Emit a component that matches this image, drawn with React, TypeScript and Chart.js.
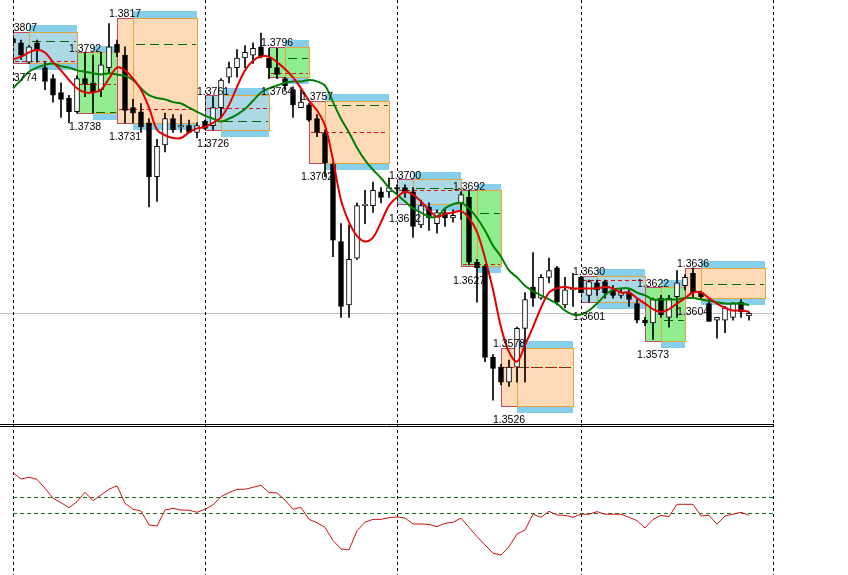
import React, { useEffect, useRef } from "react";
import { Chart, registerables } from "chart.js";

Chart.register(...registerables);

// ---------- categories (hourly bars) ----------
const categories: string[] = Array.from({ length: 96 }, (_, i) => `H${i}`);

// ---------- OHLC ----------
const opens = [
  1.3802, 1.3799, 1.3785, 1.3799, 1.3781, 1.3773, 1.3763, 1.3759, 1.3749, 1.3773,
  1.3770, 1.3765, 1.3781, 1.3798, 1.3790, 1.3752, 1.3749, 1.3741, 1.3702, 1.3725,
  1.3744, 1.3738, 1.3739, 1.3734, 1.3742, 1.3739, 1.3752, 1.3774, 1.3781, 1.3788,
  1.3790, 1.3796, 1.3788, 1.3781, 1.3773, 1.3765, 1.3752, 1.3754, 1.3744, 1.3734,
  1.3711, 1.3655, 1.3609, 1.3643, 1.3681, 1.3681, 1.3691, 1.3691, 1.3694, 1.3694,
  1.3691, 1.3667, 1.3680, 1.3668, 1.3676, 1.3672, 1.3683, 1.3687, 1.3640, 1.3637,
  1.3571, 1.3564, 1.3553, 1.3564, 1.3592, 1.3622, 1.3614, 1.3629, 1.3636, 1.3609,
  1.3620, 1.3629, 1.3616, 1.3625, 1.3626, 1.3620, 1.3616, 1.3618, 1.3610, 1.3598,
  1.3596, 1.3614, 1.3600, 1.3615, 1.3623, 1.3632, 1.3618, 1.3610, 1.3598, 1.3598,
  1.3600, 1.3611, 1.3601,
];
const highs = [
  1.3803, 1.3801, 1.3797, 1.3801, 1.3785, 1.3776, 1.3770, 1.3761, 1.3775, 1.3792,
  1.3790, 1.3792, 1.3813, 1.3801, 1.3796, 1.3758, 1.3755, 1.3744, 1.3729, 1.3748,
  1.3747, 1.3747, 1.3743, 1.3741, 1.3743, 1.3760, 1.3773, 1.3785, 1.3794, 1.3797,
  1.3799, 1.3806, 1.3795, 1.3795, 1.3774, 1.3767, 1.3765, 1.3755, 1.3747, 1.3736,
  1.3712, 1.3668, 1.3667, 1.3683, 1.3692, 1.3698, 1.3694, 1.3701, 1.3696, 1.3696,
  1.3694, 1.3685, 1.3683, 1.3678, 1.3679, 1.3678, 1.3691, 1.3692, 1.3642, 1.3638,
  1.3573, 1.3566, 1.3569, 1.3593, 1.3618, 1.3647, 1.3631, 1.3643, 1.3637, 1.3629,
  1.3632, 1.3630, 1.3627, 1.3627, 1.3627, 1.3623, 1.3621, 1.3620, 1.3613, 1.3600,
  1.3614, 1.3616, 1.3616, 1.3634, 1.3631, 1.3636, 1.3619, 1.3614, 1.3600, 1.3608,
  1.3611, 1.3613, 1.3604,
];
const lows = [
  1.3797, 1.3787, 1.3784, 1.3785, 1.3765, 1.3756, 1.3745, 1.3741, 1.3748, 1.3760,
  1.3748, 1.3760, 1.3777, 1.3789, 1.3741, 1.3741, 1.3734, 1.3680, 1.3684, 1.3720,
  1.3734, 1.3734, 1.3734, 1.3730, 1.3736, 1.3736, 1.3745, 1.3770, 1.3774, 1.3781,
  1.3784, 1.3788, 1.3773, 1.3773, 1.3765, 1.3745, 1.3752, 1.3742, 1.3731, 1.3702,
  1.3644, 1.3600, 1.3600, 1.3642, 1.3668, 1.3676, 1.3683, 1.3687, 1.3689, 1.3687,
  1.3658, 1.3665, 1.3663, 1.3661, 1.3666, 1.3669, 1.3671, 1.3638, 1.3611, 1.3568,
  1.3540, 1.3551, 1.3550, 1.3553, 1.3553, 1.3608, 1.3613, 1.3625, 1.3609, 1.3607,
  1.3608, 1.3618, 1.3611, 1.3616, 1.3614, 1.3614, 1.3614, 1.3608, 1.3596, 1.3594,
  1.3584, 1.3600, 1.3593, 1.3600, 1.3620, 1.3615, 1.3613, 1.3597, 1.3585, 1.3589,
  1.3598, 1.3600, 1.3598,
];
const closes = [
  1.3799, 1.3790, 1.3796, 1.3794, 1.3771, 1.3761, 1.3758, 1.3749, 1.3773, 1.3769,
  1.3763, 1.3783, 1.3796, 1.3792, 1.3750, 1.3748, 1.3738, 1.3702, 1.3724, 1.3744,
  1.3736, 1.3739, 1.3734, 1.3739, 1.3737, 1.3752, 1.3772, 1.3781, 1.3788, 1.3792,
  1.3795, 1.3789, 1.3781, 1.3776, 1.3768, 1.3754, 1.3756, 1.3743, 1.3734, 1.3712,
  1.3656, 1.3608, 1.3642, 1.3681, 1.3682, 1.3692, 1.3687, 1.3694, 1.3693, 1.3691,
  1.3666, 1.3681, 1.3672, 1.3676, 1.3672, 1.3674, 1.3689, 1.3640, 1.3636, 1.3571,
  1.3563, 1.3553, 1.3564, 1.3592, 1.3613, 1.3614, 1.3629, 1.3634, 1.3611, 1.3620,
  1.3621, 1.3618, 1.3626, 1.3620, 1.3618, 1.3616, 1.3618, 1.3613, 1.3598, 1.3596,
  1.3613, 1.3602, 1.3614, 1.3625, 1.3629, 1.3618, 1.3615, 1.3597, 1.3600, 1.3607,
  1.3610, 1.3604, 1.3603,
];

// ---------- moving averages ----------
const fastMA = [
  1.3787, 1.3789, 1.3792, 1.3794, 1.3792, 1.3785, 1.3779, 1.3772, 1.3766, 1.3763,
  1.3763, 1.3765, 1.3773, 1.3781, 1.3779, 1.3773, 1.3765, 1.3752, 1.3736, 1.3732,
  1.3730, 1.3730, 1.3734, 1.3737, 1.3738, 1.3741, 1.3745, 1.3754, 1.3767, 1.3779,
  1.3786, 1.3789, 1.3789, 1.3785, 1.3780, 1.3774, 1.3766, 1.3757, 1.3750, 1.3739,
  1.3714, 1.3685, 1.3669, 1.3659, 1.3655, 1.3658, 1.3669, 1.3681, 1.3687, 1.3691,
  1.3689, 1.3684, 1.3678, 1.3673, 1.3675, 1.3676, 1.3677, 1.3672, 1.3662, 1.3643,
  1.3620, 1.3593, 1.3575, 1.3568, 1.3580, 1.3593, 1.3607, 1.3618, 1.3621, 1.3622,
  1.3621, 1.3621, 1.3621, 1.3621, 1.3622, 1.3621, 1.3618, 1.3618, 1.3614, 1.3610,
  1.3606, 1.3604, 1.3606, 1.3610, 1.3614, 1.3618, 1.3618, 1.3614, 1.3610, 1.3607,
  1.3605, 1.3605, 1.3604,
];
const slowMA = [
  1.3766, 1.3772, 1.3778, 1.3781, 1.3783, 1.3784, 1.3782, 1.3781, 1.3779, 1.3778,
  1.3777, 1.3776, 1.3777, 1.3776, 1.3775, 1.3772, 1.3766, 1.3761, 1.3759, 1.3758,
  1.3756, 1.3755, 1.3752, 1.3749, 1.3746, 1.3744, 1.3742, 1.3744, 1.3747, 1.3751,
  1.3757, 1.3763, 1.3766, 1.3768, 1.3770, 1.3771, 1.3771, 1.3772, 1.3771, 1.3768,
  1.3756, 1.3744, 1.3734, 1.3723, 1.3714, 1.3707, 1.3701, 1.3694, 1.3689, 1.3684,
  1.3679, 1.3676, 1.3673, 1.3673, 1.3679, 1.3682, 1.3683, 1.3679, 1.3672, 1.3663,
  1.3652, 1.3644, 1.3634, 1.3629, 1.3623, 1.3619, 1.3616, 1.3613, 1.3610, 1.3605,
  1.3602, 1.3602, 1.3605, 1.3610, 1.3616, 1.3620, 1.3621, 1.3621, 1.3618, 1.3616,
  1.3613, 1.3613, 1.3613, 1.3613, 1.3614, 1.3614, 1.3613, 1.3612, 1.3611, 1.3610,
  1.3610, 1.3610, 1.3609,
];

// ---------- lower-pane oscillator ----------
const oscillator = [
  65.4, 61.4, 62.5, 61.2, 55.6, 49.4, 46.6, 43.5, 47.2, 53.1,
  47.9, 51.4, 55.0, 57.2, 46.2, 42.5, 41.4, 32.7, 32.0, 42.0,
  43.1, 42.0, 41.9, 40.6, 42.5, 45.2, 50.4, 52.9, 55.0, 55.0,
  56.2, 57.5, 52.9, 52.7, 48.3, 42.5, 43.7, 36.2, 34.1, 31.2,
  22.9, 17.7, 17.1, 29.1, 34.4, 36.2, 36.2, 37.2, 37.7, 37.0,
  33.3, 33.3, 33.0, 31.6, 33.7, 34.4, 36.9, 31.2, 25.4, 20.2,
  15.0, 13.9, 19.1, 27.0, 29.5, 39.4, 37.5, 41.2, 38.9, 38.7,
  37.5, 39.4, 39.4, 41.0, 39.4, 39.4, 39.4, 37.5, 35.4, 30.8,
  36.2, 38.7, 37.9, 45.6, 45.6, 45.6, 38.3, 38.7, 33.1, 38.3,
  39.4, 40.6, 38.7,
];
const oscLevels = [50, 40];

// ---------- day separators ----------
const separatorIndices = [0, 24, 48, 71, 95];

// ---------- session boxes ----------
const boxStart = [0, 8, 13, 24, 32, 37, 48, 56, 61, 71, 79, 84];
const boxSplit = [2, 10, 15, 26, 34, 39, 50, 58, 63, 73, 81, 86];
const boxEnd = [8, 13, 23, 32, 37, 47, 56, 61, 70, 79, 84, 94];
const boxHigh = [1.3807, 1.3792, 1.3817, 1.3761, 1.3796, 1.3757, 1.37, 1.3692, 1.3578, 1.363, 1.3622, 1.3636];
const boxLow = [1.3774, 1.3738, 1.3731, 1.3726, 1.3764, 1.3702, 1.3672, 1.3627, 1.3526, 1.3601, 1.3573, 1.3604];
const boxKind = ["blue", "green", "peach", "blue", "green", "peach", "blue", "green", "peach", "blue", "green", "peach"];
const boxGreenLevel: (number | null)[] = [1.38, 1.3749, 1.3798, 1.3742, 1.3788, 1.3754, 1.3694, 1.3676, 1.3564, null, 1.3598, 1.3624];
const boxRedLevel: (number | null)[] = [1.3786, 1.3769, 1.3751, 1.3752, 1.3777, 1.3734, 1.3692, 1.3639, 1.3564, 1.3627, null, null];

const Y_MAX = 1.383;
const Y_MIN = 1.352275;
const LOW_GAP = 0.001;
const BAND = 0.0005;

const FILLS: Record<string, string> = { blue: "#add8e6", green: "#90ee90", peach: "#ffdab9" };
const BAND_COLOR = "#87ceeb";
const PINK = "#c04868";
const GOLD = "#e3a63a";
const LABEL_FONT = "10.5px 'Liberation Sans', Arial, sans-serif";

function drawSeparators(chart: any, h: number) {
  const { ctx, scales } = chart;
  ctx.save();
  ctx.strokeStyle = "#000";
  ctx.lineWidth = 1;
  ctx.setLineDash([3, 3]);
  separatorIndices.forEach((i) => {
    const px = Math.round(scales.x.getPixelForValue(i)) + 0.5;
    ctx.beginPath();
    ctx.moveTo(px, 0);
    ctx.lineTo(px, h);
    ctx.stroke();
  });
  ctx.restore();
}

const mainPlugin = {
  id: "mt4main",
  beforeDatasetsDraw(chart: any) {
    const { ctx, chartArea: a, scales } = chart;
    const x = scales.x;
    const y = scales.y;
    ctx.save();
    ctx.beginPath();
    ctx.rect(a.left, a.top, a.right - a.left, a.bottom - a.top);
    ctx.clip();
    for (let k = 0; k < boxStart.length; k++) {
      const x0 = Math.round(x.getPixelForValue(boxStart[k]));
      const xs = Math.round(x.getPixelForValue(boxSplit[k]));
      const x1 = Math.round(x.getPixelForValue(boxEnd[k]));
      const top = Math.round(y.getPixelForValue(boxHigh[k]));
      const bot = Math.round(y.getPixelForValue(boxLow[k] + LOW_GAP));
      const bt = Math.round(y.getPixelForValue(boxHigh[k] + BAND));
      const bb = Math.round(y.getPixelForValue(boxLow[k] + LOW_GAP - BAND));
      ctx.fillStyle = BAND_COLOR;
      ctx.fillRect(xs, bt, x1 - xs, bb - bt);
      ctx.fillStyle = FILLS[boxKind[k]];
      ctx.fillRect(x0, top, x1 - x0, bot - top);
      ctx.lineWidth = 1;
      ctx.setLineDash([]);
      ctx.strokeStyle = PINK;
      ctx.strokeRect(x0 + 0.5, top + 0.5, xs - x0, bot - top);
      ctx.strokeStyle = GOLD;
      ctx.strokeRect(xs + 0.5, top + 0.5, x1 - xs, bot - top);
      const g = boxGreenLevel[k];
      if (g !== null) {
        const gy = Math.round(y.getPixelForValue(g)) + 0.5;
        ctx.strokeStyle = "#006a00";
        ctx.setLineDash([9, 5]);
        ctx.beginPath();
        ctx.moveTo(xs + 3, gy);
        ctx.lineTo(x1 - 1, gy);
        ctx.stroke();
      }
      const r = boxRedLevel[k];
      if (r !== null) {
        const ry = Math.round(y.getPixelForValue(r)) + 0.5;
        ctx.strokeStyle = "#dd1010";
        ctx.setLineDash([4, 3]);
        ctx.beginPath();
        ctx.moveTo(x0 + 2, ry);
        ctx.lineTo(x1 - 1, ry);
        ctx.stroke();
      }
    }
    ctx.restore();
    // bid line
    const by = Math.round(y.getPixelForValue(closes[closes.length - 1])) + 0.5;
    ctx.save();
    ctx.strokeStyle = "#c0c0c0";
    ctx.lineWidth = 1;
    ctx.beginPath();
    ctx.moveTo(0, by);
    ctx.lineTo(a.right, by);
    ctx.stroke();
    ctx.restore();
    drawSeparators(chart, chart.height);
  },
  afterDatasetsDraw(chart: any) {
    const { ctx, chartArea: a, scales } = chart;
    const x = scales.x;
    const y = scales.y;
    ctx.save();
    ctx.beginPath();
    ctx.rect(a.left, 0, a.right - a.left, chart.height);
    ctx.clip();
    ctx.font = LABEL_FONT;
    ctx.fillStyle = "#000";
    ctx.textAlign = "left";
    ctx.textBaseline = "alphabetic";
    for (let k = 0; k < boxStart.length; k++) {
      const lx = x.getPixelForValue(boxStart[k] - 1);
      ctx.fillText(boxHigh[k].toFixed(4), lx, y.getPixelForValue(boxHigh[k]) - 0.5);
      ctx.fillText(boxLow[k].toFixed(4), lx, y.getPixelForValue(boxLow[k]) + 3.5);
    }
    ctx.restore();
  },
};

const lowerPlugin = {
  id: "mt4lower",
  beforeDatasetsDraw(chart: any) {
    const { ctx, chartArea: a, scales } = chart;
    drawSeparators(chart, chart.height);
    ctx.save();
    ctx.strokeStyle = "#1a7a1a";
    ctx.lineWidth = 1;
    ctx.setLineDash([4, 3]);
    oscLevels.forEach((lv) => {
      const ly = Math.round(scales.y.getPixelForValue(lv)) + 0.5;
      ctx.beginPath();
      ctx.moveTo(a.left, ly);
      ctx.lineTo(a.right, ly);
      ctx.stroke();
    });
    ctx.setLineDash([]);
    ctx.strokeStyle = "#000";
    [0.5, 2.5].forEach((ly) => {
      ctx.beginPath();
      ctx.moveTo(0, ly);
      ctx.lineTo(a.right, ly);
      ctx.stroke();
    });
    ctx.restore();
  },
};

export default function App() {
  const mainRef = useRef<HTMLCanvasElement | null>(null);
  const lowerRef = useRef<HTMLCanvasElement | null>(null);

  useEffect(() => {
    if (!mainRef.current || !lowerRef.current) return;
    const main = new Chart(mainRef.current, {
      type: "bar",
      data: {
        labels: categories,
        datasets: [
          {
            type: "line",
            label: "Fast MA",
            data: fastMA,
            borderColor: "#e40000",
            borderWidth: 2,
            pointRadius: 0,
            tension: 0.35,
            order: 0,
          } as any,
          {
            type: "line",
            label: "Slow MA",
            data: slowMA,
            borderColor: "#008000",
            borderWidth: 2,
            pointRadius: 0,
            tension: 0.35,
            order: 1,
          } as any,
          {
            type: "bar",
            label: "Body",
            data: opens.map((o, i) => [o, closes[i]]),
            backgroundColor: opens.map((o, i) => (closes[i] < o ? "#000000" : "#ffffff")),
            borderColor: "#000000",
            borderWidth: 1,
            borderSkipped: false,
            barThickness: 5,
            grouped: false,
            order: 2,
          } as any,
          {
            type: "bar",
            label: "Wick",
            data: lows.map((l, i) => [l, highs[i]]),
            backgroundColor: "#000000",
            barThickness: 1,
            grouped: false,
            order: 3,
          } as any,
        ],
      },
      options: {
        responsive: false,
        maintainAspectRatio: false,
        animation: false,
        events: [],
        layout: { padding: { left: 13, right: 75, top: 0, bottom: 0 } },
        plugins: { legend: { display: false }, tooltip: { enabled: false } },
        scales: {
          x: { type: "category", display: false, offset: false },
          y: { display: false, min: Y_MIN, max: Y_MAX },
        },
      },
      plugins: [mainPlugin],
    });

    const lower = new Chart(lowerRef.current, {
      type: "line",
      data: {
        labels: categories,
        datasets: [
          {
            label: "Oscillator",
            data: oscillator,
            borderColor: "#cc1414",
            borderWidth: 1,
            pointRadius: 0,
            tension: 0,
          },
        ],
      },
      options: {
        responsive: false,
        maintainAspectRatio: false,
        animation: false,
        events: [],
        layout: { padding: { left: 13, right: 75, top: 0, bottom: 0 } },
        plugins: { legend: { display: false }, tooltip: { enabled: false } },
        scales: {
          x: { type: "category", display: false, offset: false },
          y: { display: false, min: 1.4, max: 95.8 },
        },
      },
      plugins: [lowerPlugin],
    });

    return () => {
      main.destroy();
      lower.destroy();
    };
  }, []);

  return (
    <div style={{ position: "fixed", left: 0, top: 0, width: 848, height: 575, background: "#ffffff" }}>
      <canvas ref={mainRef} width={848} height={424} style={{ display: "block", width: 848, height: 424 }} />
      <canvas ref={lowerRef} width={848} height={151} style={{ display: "block", width: 848, height: 151 }} />
    </div>
  );
}
